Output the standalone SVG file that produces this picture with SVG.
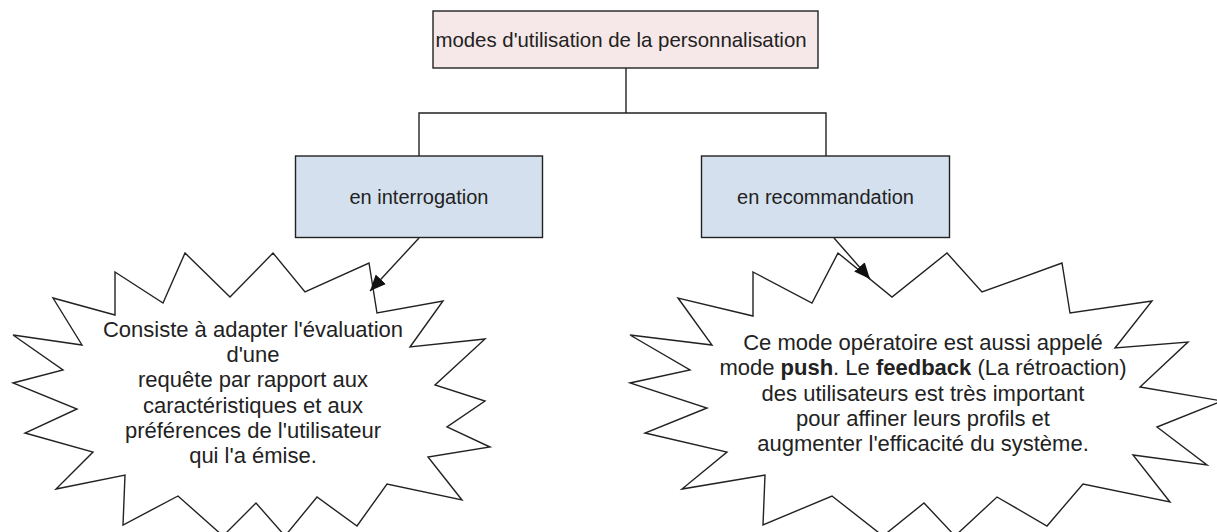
<svg xmlns="http://www.w3.org/2000/svg" width="1217" height="532" viewBox="0 0 1217 532">
  <style>
    .box { stroke: #222; stroke-width: 1.4; }
    .root { fill: #f6e8e8; }
    .child { fill: #d4e0ed; }
    .star { fill: #ffffff; stroke: #222; stroke-width: 1.4; stroke-linejoin: miter; }
    .lbl { font-family: "Liberation Sans", Arial, sans-serif; font-size: 20px; fill: #222; text-anchor: middle; }
    .note { font-family: "Liberation Sans", Arial, sans-serif; font-size: 22px; fill: #222; text-anchor: middle; }
    .wire { fill: none; stroke: #222; stroke-width: 1.4; }
    .b { font-weight: bold; }
  </style>
  <defs>
    <marker id="arrow" viewBox="0 0 16 14" refX="16" refY="7" markerWidth="16" markerHeight="14" markerUnits="userSpaceOnUse" orient="auto">
      <path d="M0,0 L16,7 L0,14 Z" fill="#111"/>
    </marker>
  </defs>

  <rect width="1217" height="532" fill="#ffffff"/>

  <!-- burst shapes holding the explanations -->
  <g id="burst-interrogation">
    <polygon class="star" points="115,272 163,303 185,253 230,297 273,253 305,292 369,263 377,313 443,301 410,347 485,339 435,385 485,401 447,427 490,447 428,457 462,500 387,484 357,526 317,497 285,536 256,503 223,536 178,496 123,525 125,475 56,489 93,452 25,433 77,409 13,383 63,370 13,335 82,345 53,298 115,315"/>
    <text class="note" x="253" y="337">Consiste à adapter l'évaluation</text>
    <text class="note" x="253" y="362">d'une</text>
    <text class="note" x="253" y="387">requête par rapport aux</text>
    <text class="note" x="253" y="413">caractéristiques et aux</text>
    <text class="note" x="253" y="438">préférences de l'utilisateur</text>
    <text class="note" x="253" y="463">qui l'a émise.</text>
  </g>

  <g id="burst-recommandation">
    <polygon class="star" points="753,272 812,303 838,253 892,297 947,253 982,292 1062,263 1070,313 1152,301 1115,348 1188,342 1140,387 1222,401 1157,427 1207,465 1133,455 1170,502 1083,484 1047,526 997,497 955,536 924,503 883,536 832,496 763,525 765,475 682,489 727,452 645,433 707,408 630,383 690,370 630,335 712,345 678,298 753,316"/>
    <text class="note" x="923" y="350">Ce mode opératoire est aussi appelé</text>
    <text class="note" x="923" y="375">mode <tspan class="b">push</tspan>. Le <tspan class="b">feedback</tspan> (La rétroaction)</text>
    <text class="note" x="923" y="401">des utilisateurs est très important</text>
    <text class="note" x="923" y="426">pour affiner leurs profils et</text>
    <text class="note" x="923" y="451">augmenter l'efficacité du système.</text>
  </g>

  <!-- connectors -->
  <g id="connectors">
    <polyline class="wire" points="626,68 626,113"/>
    <polyline class="wire" points="419,156 419,113 826,113 826,156"/>
    <line class="wire" x1="419" y1="238" x2="370" y2="291" marker-end="url(#arrow)"/>
    <line class="wire" x1="834" y1="238" x2="870" y2="279" marker-end="url(#arrow)"/>
  </g>

  <g id="node-root">
    <rect class="box root" x="433" y="11" width="385" height="57"/>
    <text class="lbl" x="621" y="47" style="font-size:20.4px">modes d'utilisation de la personnalisation</text>
  </g>

  <g id="node-interrogation">
    <rect class="box child" x="295.5" y="156" width="247" height="81.5"/>
    <text class="lbl" x="419" y="204">en interrogation</text>
  </g>

  <g id="node-recommandation">
    <rect class="box child" x="701.5" y="156" width="248" height="81.5"/>
    <text class="lbl" x="825.5" y="204">en recommandation</text>
  </g>
</svg>
